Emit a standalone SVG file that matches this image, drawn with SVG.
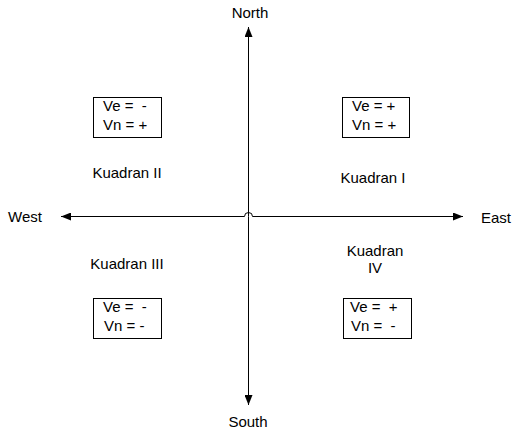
<svg xmlns="http://www.w3.org/2000/svg" width="514" height="431" viewBox="0 0 514 431">
<style>
text{font-family:"Liberation Sans",Arial,sans-serif;font-size:15px;fill:#000;white-space:pre}
.c{text-anchor:middle}
.box{fill:#fff;stroke:#000;stroke-width:1}
.ax{fill:none;stroke:#000;stroke-width:1}
</style>
<defs>
<marker id="ah" markerWidth="10" markerHeight="8" refX="10" refY="4" orient="auto" markerUnits="userSpaceOnUse">
<path d="M0,0 L10,4 L0,8 Z" fill="#000"/>
</marker>
</defs>
<rect width="514" height="431" fill="#fff"/>
<g id="connectors">
<path class="ax" d="M248.5,216.5 L248.5,27" marker-end="url(#ah)"/>
<path class="ax" d="M248.5,216.5 L248.5,405" marker-end="url(#ah)"/>
<path class="ax" d="M244.5,216.5 L61,216.5" marker-end="url(#ah)"/>
<path class="ax" d="M252.5,216.5 L463,216.5" marker-end="url(#ah)"/>
<path class="ax" d="M244.5,216.5 A4,4 0 0 1 252.5,216.5"/>
</g>
<g id="north"><text class="c" x="250" y="18">North</text></g>
<g id="south"><text class="c" x="248" y="427">South</text></g>
<g id="west"><text x="8" y="222">West</text></g>
<g id="east"><text x="481" y="223">East</text></g>
<g id="box2"><rect class="box" x="93.5" y="97.5" width="68" height="40"/>
<text xml:space="preserve" x="103" y="111">Ve =  -</text><text x="103" y="130">Vn = +</text></g>
<g id="box1"><rect class="box" x="342.5" y="97.5" width="67" height="40"/>
<text x="352" y="111">Ve = +</text><text x="352" y="130">Vn = +</text></g>
<g id="box3"><rect class="box" x="93.5" y="298.5" width="68" height="40"/>
<text xml:space="preserve" x="103" y="312">Ve =  -</text><text x="104" y="331">Vn = -</text></g>
<g id="box4"><rect class="box" x="343.5" y="298.5" width="68" height="40"/>
<text xml:space="preserve" x="350" y="312">Ve =  +</text><text xml:space="preserve" x="351" y="331">Vn =  -</text></g>
<g id="q2"><text class="c" x="127" y="178">Kuadran II</text></g>
<g id="q1"><text class="c" x="373" y="183">Kuadran I</text></g>
<g id="q3"><text class="c" x="127" y="269">Kuadran III</text></g>
<g id="q4"><text class="c" x="375" y="256">Kuadran</text><text class="c" x="375" y="273">IV</text></g>
</svg>
